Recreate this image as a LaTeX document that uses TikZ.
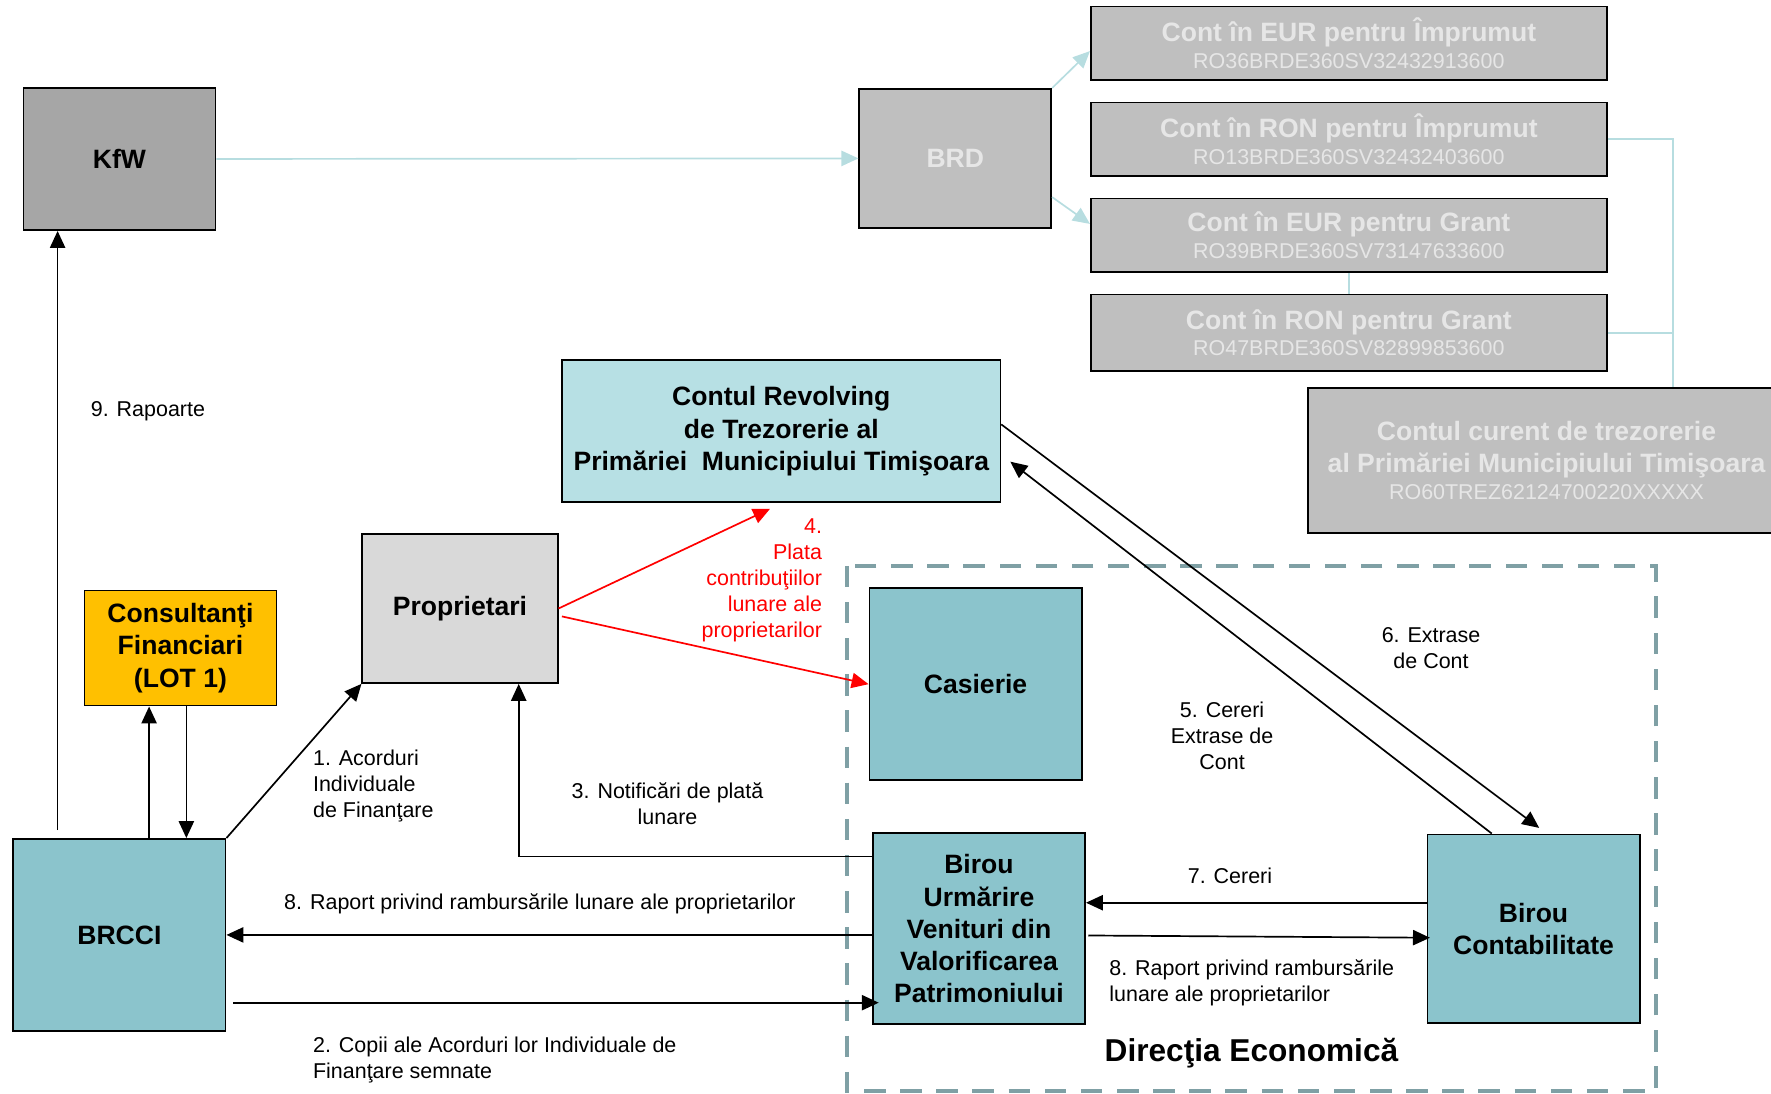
\documentclass[tikz,border=0pt]{standalone}
\usepackage{fontspec}
\setmainfont{Liberation Sans}
\usetikzlibrary{arrows.meta}
\definecolor{tealbox}{RGB}{139,196,204}
\definecolor{revbox}{RGB}{183,224,228}
\definecolor{accbox}{RGB}{191,191,191}
\definecolor{kfwbox}{RGB}{166,166,166}
\definecolor{propbox}{RGB}{217,217,217}
\definecolor{consbox}{RGB}{255,192,0}
\definecolor{acctext}{RGB}{230,230,230}
\definecolor{lblue}{RGB}{183,221,224}
\definecolor{dirline}{RGB}{127,160,165}
\newcommand{\acctno}[1]{{\mdseries\fontsize{19}{23}\selectfont #1}}
\tikzset{
  box/.style = {draw=black, line width=1.5pt, align=center, inner sep=0pt,
    anchor=north west, font=\bfseries\fontsize{23.5}{28.5}\selectfont},
  box_t/.style = {box, fill=tealbox, minimum width=188pt},
  box_g/.style = {box, fill=accbox, text=acctext},
  acc_n/.style = {box_g, minimum width=457pt},
  lbl/.style = {inner sep=0pt, yshift=-2.5pt, font=\fontsize{19}{23}\selectfont},
  conn/.style = {->, line width=1.5pt},
  red_arr/.style = {->, line width=1.5pt, draw=red, fill=red},
  lb_line/.style = {draw=lblue, line width=1.5pt},
  lb_arr/.style = {lb_line, ->},
  dir_box/.style = {draw=dirline, line width=3.5pt, dash pattern=on 19pt off 13pt}
}

\begin{document}
\begin{tikzpicture}[x=1pt, y=-1pt, >={Triangle[length=15pt,width=13.5pt]}]
\useasboundingbox (0,0) rectangle (1568,968);
\draw[dir_box] (750,501) rectangle (1466,966);
% top row
\node [box, fill=kfwbox, minimum width=170pt, minimum height=126pt] (kfw) at (20,77) {KfW};
\node [box_g, minimum width=170pt, minimum height=123pt] (brd) at (760,78) {BRD};
\node [acc_n, minimum height=65pt] (acc1) at (965,5)
  {Cont în EUR pentru Împrumut\\[-5pt]\acctno{RO36BRDE360SV32432913600}};
\node [acc_n, minimum height=65pt] (acc2) at (965,90)
  {Cont în RON pentru Împrumut\\[-5pt]\acctno{RO13BRDE360SV32432403600}};
\node [acc_n, minimum height=65pt] (acc3) at (965,175)
  {Cont în EUR pentru Grant\\[-5pt]\acctno{RO39BRDE360SV73147633600}};
\node [acc_n, minimum height=68pt] (acc4) at (965,260)
  {Cont în RON pentru Grant\\[-5pt]\acctno{RO47BRDE360SV82899853600}};
\node [box_g, minimum width=423pt, minimum height=128pt] (curr) at (1157,343)
  {Contul curent de trezorerie\\al Primăriei Municipiului Timişoara\\[-5pt]\acctno{RO60TREZ62124700220XXXXX}};
% middle
\node [box, fill=revbox, minimum width=388pt, minimum height=126pt] (crt) at (497,318)
  {Contul Revolving\\de Trezorerie al\\Primăriei~ Municipiului Timişoara};
\node [box, fill=propbox, minimum width=173pt, minimum height=132pt] (prop) at (320,472) {Proprietari};
\node [box, fill=consbox, minimum width=170pt, minimum height=102pt] (cons) at (74,522)
  {Consultanţi\\Financiari\\(LOT 1)};
% bottom
\node [box_t, minimum height=170pt] (brcci) at (11,742) {BRCCI};
\node [box_t, minimum height=170pt] (cas) at (769,520) {Casierie};
\node [box_t, minimum height=169pt] (buvp) at (772,737)
  {Birou\\Urmărire\\Venituri din\\Valorificarea\\Patrimoniului};
\node [box_t, minimum height=167pt] (bcon) at (1263,738) {Birou\\Contabilitate};

% bank links
\draw[lb_arr] (kfw.east) -- (brd.west);
\draw[lb_arr] (brd.north east) -- ([yshift=-7pt]acc1.west);
\draw[lb_arr] ([yshift=28pt]brd.south east) -- ([yshift=10pt]acc3.west);
\draw[lb_line] (acc3.south) -- (acc4.north);
\coordinate (cc_top) at ([xshift=112pt]curr.north);
\draw[lb_line] (acc2.east) -| (cc_top);
\draw[lb_line] (acc4.east) -- (acc4.east -| cc_top);

% flows
\draw[conn] ([xshift=40pt,yshift=7pt]brcci.north west) -- ([xshift=31pt]kfw.south west);
\coordinate (c_up) at ([xshift=58pt]cons.south west);
\coordinate (c_dn) at ([xshift=91pt]cons.south west);
\draw[conn] (c_up |- brcci.north) -- (c_up);
\draw[conn] (c_dn) -- (c_dn |- brcci.north);
\draw[conn] (brcci.north east) -- (prop.south west);
\draw[conn] ([yshift=64pt]buvp.west) -| ([xshift=52pt]prop.south);
\draw[conn] (buvp.west |- brcci.east) -- (brcci.east);
\coordinate (cp_a) at ([xshift=6pt,yshift=-60pt]brcci.east);
\coordinate (cp_b) at ([xshift=6pt]buvp.west);
\draw[conn] (cp_a) -- (cp_a -| cp_b);
\draw[red_arr] (prop.east) -- ([xshift=-10pt,yshift=-5pt]crt.south);
\draw[red_arr] ([xshift=3pt,yshift=-7pt]prop.east) -- (cas.west);
\draw[conn] ([xshift=-37pt]bcon.north) -- ([xshift=8pt,yshift=-27pt]crt.east);
\draw[conn] ([yshift=6pt]crt.east) -- ([xshift=5pt,yshift=5pt]bcon.north);
\coordinate (r7) at ([yshift=23pt]bcon.west);
\draw[conn] (r7) -- (r7 -| buvp.east);
\draw[conn] ([xshift=2pt,yshift=-6pt]buvp.east) -- ([xshift=3pt,yshift=-8pt]bcon.west);

% labels
\node[lbl] (l9) at (131,362) {9. Rapoarte};
\node[lbl, anchor=west, align=left] (l1) at (277,693) {1. Acorduri\\Individuale\\de Finanţare};
\node[lbl, align=center] (l3) at (591,709) {3. Notificări de plată\\lunare};
\node[lbl] (l8a) at (478,798) {8. Raport privind rambursările lunare ale proprietarilor};
\node[lbl, anchor=west, align=left] (l2) at (277,936) {2. Copii ale Acorduri lor Individuale de\\Finanţare semnate};
\node[lbl, anchor=east, align=right, text=red] (l4) at (728,511)
  {4.\\Plata\\contribuţiilor\\lunare ale\\proprietarilor};
\node[lbl, align=center] (l5) at (1082,649) {5. Cereri\\Extrase de\\Cont};
\node[lbl, align=center] (l6) at (1267,571) {6. Extrase\\de Cont};
\node[lbl] (l7) at (1089,773) {7. Cereri};
\node[lbl, anchor=west, align=left] (l8b) at (982,868) {8. Raport privind rambursările\\lunare ale proprietarilor};
\node[font=\bfseries\fontsize{28}{32}\selectfont] (dir) at (1108,932) {Direcţia Economică};
\end{tikzpicture}
\end{document}
